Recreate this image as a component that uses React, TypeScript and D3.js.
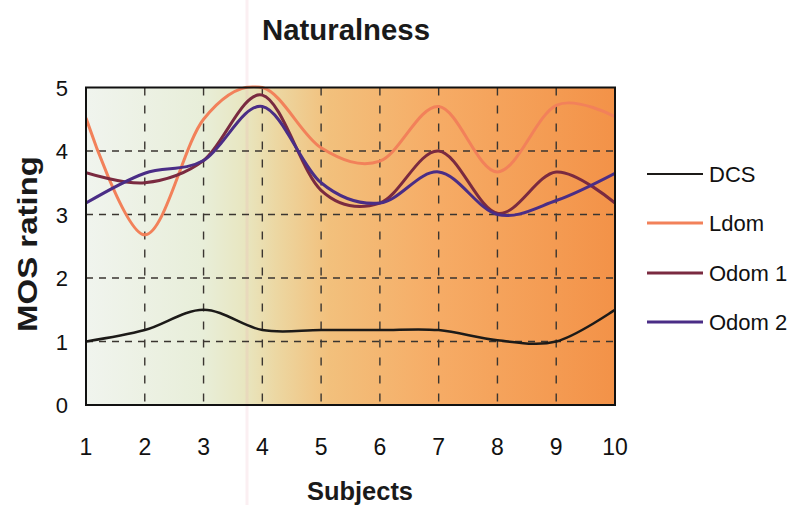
import React from "react";
import * as d3 from "d3";

const subjects = [1, 2, 3, 4, 5, 6, 7, 8, 9, 10];
const dcs = [1.0, 1.18, 1.5, 1.18, 1.18, 1.18, 1.18, 1.02, 1.0, 1.5];
const ldom = [4.52, 2.68, 4.5, 5.0, 4.05, 3.84, 4.7, 3.67, 4.72, 4.54];
const odom1 = [3.66, 3.5, 3.85, 4.88, 3.38, 3.18, 4.0, 3.02, 3.67, 3.18];
const odom2 = [3.18, 3.65, 3.85, 4.7, 3.5, 3.18, 3.67, 3.0, 3.22, 3.65];
const yTicks = [0, 1, 2, 3, 4, 5];
const seriesNames = ["DCS", "Ldom", "Odom 1", "Odom 2"];
const seriesData = [dcs, ldom, odom1, odom2];
const seriesColors = ["#1c1a18", "#f2815a", "#7a2a40", "#4a2d86"];
const seriesWidths = [2.5, 3, 3, 3];

export default function App() {
  const W = 798, H = 505;
  const left = 86, right = 615, top = 87.5, bottom = 405;
  const x = d3.scaleLinear().domain([1, 10]).range([left, right]);
  const y = d3.scaleLinear().domain([0, 5]).range([bottom, top]);
  const line = d3
    .line<number>()
    .x((_, i) => x(subjects[i]))
    .y((d) => y(d))
    .curve(d3.curveCardinal.tension(0));
  const font = "'Liberation Sans', Arial, sans-serif";
  const legendY = [174, 223, 273, 322];

  return (
    <svg
      width={W}
      height={H}
      style={{ position: "absolute", left: 0, top: 0, background: "#fff" }}
    >
      <defs>
        <linearGradient id="bg" gradientUnits="userSpaceOnUse" x1={left} x2={right} y1={0} y2={0}>
          <stop offset="0%" stopColor="#f0f4ee" />
          <stop offset="22%" stopColor="#e8eed9" />
          <stop offset="30%" stopColor="#e8e6c0" />
          <stop offset="36%" stopColor="#ecd7a2" />
          <stop offset="46%" stopColor="#f2c07c" />
          <stop offset="66%" stopColor="#f6ac66" />
          <stop offset="100%" stopColor="#f39248" />
        </linearGradient>
        <clipPath id="plot">
          <rect x={left} y={top - 2} width={right - left} height={bottom - top + 2} />
        </clipPath>
      </defs>
      <rect x={left} y={top} width={right - left} height={bottom - top} fill="url(#bg)" />
      {/* scan artifact */}
      <rect x={245.5} y={0} width={3} height={H} fill="#e8a8b8" opacity={0.18} />
      {/* grid */}
      {yTicks.slice(1, 5).map((t) => (
        <line key={"h" + t} x1={left} x2={right} y1={y(t)} y2={y(t)} stroke="#3a3530" strokeWidth={1.6} strokeDasharray="7,6" />
      ))}
      {subjects.slice(1, 9).map((s) => (
        <line key={"v" + s} x1={x(s)} x2={x(s)} y1={top} y2={bottom} stroke="#3a3530" strokeWidth={1.4} strokeDasharray="8,10" />
      ))}
      {/* series */}
      <g clipPath="url(#plot)">
        {seriesData.map((d, i) => (
          <path key={i} d={line(d) || ""} fill="none" stroke={seriesColors[i]} strokeWidth={seriesWidths[i]} strokeLinejoin="round" />
        ))}
      </g>
      {/* frame */}
      <rect x={left} y={top} width={right - left} height={bottom - top} fill="none" stroke="#111" strokeWidth={2} />
      {/* y tick labels */}
      {yTicks.map((t) => (
        <text key={"yt" + t} x={68} y={y(t) + 8} textAnchor="end" fontFamily={font} fontSize={22} fill="#111">
          {t}
        </text>
      ))}
      {/* x tick labels */}
      {subjects.map((s) => (
        <text key={"xt" + s} x={x(s)} y={455} textAnchor="middle" fontFamily={font} fontSize={23} fill="#111">
          {s}
        </text>
      ))}
      {/* title */}
      <text x={346} y={40} textAnchor="middle" fontFamily={font} fontSize={29} fontWeight="bold" fill="#1a1a1a" textLength={168} lengthAdjust="spacingAndGlyphs">
        Naturalness
      </text>
      {/* axis labels */}
      <text x={360} y={500} textAnchor="middle" fontFamily={font} fontSize={25} fontWeight="bold" fill="#1a1a1a" textLength={106} lengthAdjust="spacingAndGlyphs">
        Subjects
      </text>
      <text transform="translate(37,244) rotate(-90)" textAnchor="middle" fontFamily={font} fontSize={27} fontWeight="bold" fill="#1a1a1a" textLength={176} lengthAdjust="spacingAndGlyphs">
        MOS rating
      </text>
      {/* legend */}
      {seriesNames.map((n, i) => (
        <g key={n}>
          <line x1={647} x2={703} y1={legendY[i]} y2={legendY[i]} stroke={seriesColors[i]} strokeWidth={i === 0 ? 2.2 : 3} />
          <text x={709} y={legendY[i] + 8} fontFamily={font} fontSize={22} fill="#111">
            {n}
          </text>
        </g>
      ))}
    </svg>
  );
}
